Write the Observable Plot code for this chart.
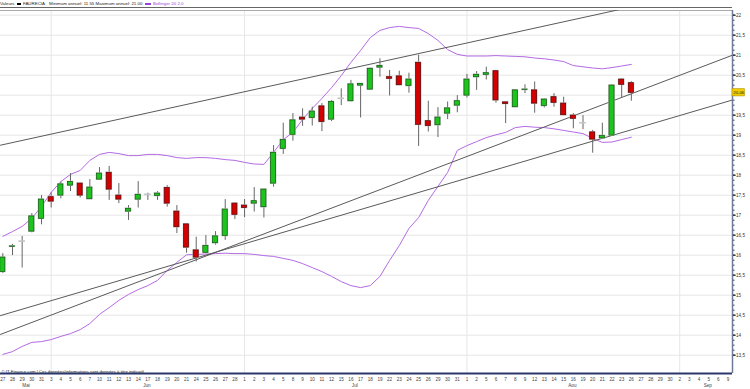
<!DOCTYPE html>
<html><head><meta charset="utf-8">
<script src="https://cdn.jsdelivr.net/npm/d3@7"></script>
<script src="https://cdn.jsdelivr.net/npm/@observablehq/plot@0.6"></script>
<style>
body{margin:0;background:#fff;font-family:"Liberation Sans",Arial,sans-serif;}
#wrap{width:750px;height:389px;overflow:hidden;}
#legend{position:relative;height:7px;border-bottom:1px solid #666;width:732px;font-size:4.4px;line-height:7px;white-space:nowrap;color:#222;}
#legend span{position:absolute;top:0;}
.mk{display:inline-block;height:2px;top:3px !important;}
</style></head>
<body><div id="wrap">
<div id="legend">
<span style="left:0">Valeurs</span>
<span class="mk" style="left:17px;width:4px;background:#000"></span>
<span style="left:23px">FAURECIA</span>
<span style="left:49px">Minimum annuel: 11.55 Maximum annuel: 21.00</span>
<span class="mk" style="left:145px;width:6px;background:#9b40d8"></span>
<span style="left:153px;color:#9b40d8">Bollinger 20 2.0</span>
</div>
<div id="chart"></div></div>
<script>
// Trading days (day-of-month labels) from 27 May to 9 Sep
const dayLabels = [27,28,29,30,31,3,4,5,6,7,10,11,12,13,14,17,18,19,20,21,24,25,26,27,28,1,2,3,4,5,8,9,10,11,12,15,16,17,18,19,22,23,24,25,26,29,30,31,1,2,5,6,7,8,9,12,13,14,15,16,19,20,21,22,23,26,27,28,29,30,2,3,4,5,6,9];
const monthNames = ["Mai","Jun","Jul","Aou","Sep"];
const monthStarts = [0,5,25,48,70];

// FAURECIA daily OHLC
const openV  = [15.58,16.21,16.34,16.59,16.91,17.45,17.49,17.74,17.79,17.40,17.89,18.06,17.49,17.09,17.39,17.51,17.48,17.68,17.09,16.77,16.12,16.06,16.30,16.48,17.29,17.24,17.29,17.20,17.79,18.66,19.01,19.44,19.43,19.72,19.39,19.91,19.85,20.24,20.14,20.69,20.45,20.47,20.23,20.81,19.35,19.25,19.54,19.74,19.99,20.45,20.51,20.60,19.82,19.70,20.13,20.12,19.73,19.95,19.79,19.49,19.30,19.07,18.92,18.99,20.39,20.30];
const highV  = [16.04,16.27,16.47,17.04,17.49,17.56,17.83,18.04,17.80,17.89,18.19,18.22,17.79,17.24,17.84,17.55,17.59,17.74,17.24,16.79,16.45,16.49,16.59,17.39,17.31,17.39,17.69,17.64,18.74,19.30,19.54,19.66,19.70,19.79,19.87,20.16,20.37,20.28,20.68,20.91,20.62,20.60,20.55,21.00,19.85,19.69,19.83,19.99,20.52,20.59,20.70,20.62,19.82,20.14,20.26,20.33,19.91,20.04,19.95,19.54,19.49,19.12,19.30,20.26,20.41,20.34];
const lowV   = [15.54,15.99,15.68,16.56,16.76,17.18,17.41,17.59,17.43,17.39,17.87,17.37,17.29,16.87,17.18,17.37,17.37,17.20,16.54,16.05,15.83,16.04,16.25,16.37,16.89,16.94,17.08,16.93,17.70,18.52,18.85,19.22,19.23,19.09,19.34,19.74,19.83,19.43,20.12,20.45,19.98,20.24,20.05,18.72,19.08,18.94,19.39,19.56,19.93,20.12,20.38,19.80,19.29,19.69,20.04,19.55,19.68,19.70,19.49,19.16,19.14,18.55,18.89,18.98,19.94,19.85];
const closeV = [15.94,16.22,16.34,16.97,17.39,17.34,17.77,17.83,17.49,17.69,18.04,17.64,17.39,17.16,17.51,17.51,17.54,17.29,16.70,16.19,15.94,16.23,16.47,17.14,17.01,17.18,17.35,17.64,18.56,18.88,19.37,19.39,19.59,19.33,19.83,19.91,20.27,20.28,20.66,20.73,20.41,20.25,20.39,19.26,19.23,19.44,19.67,19.85,20.39,20.51,20.55,19.87,19.78,20.12,20.14,19.79,19.89,19.81,19.50,19.41,19.30,18.89,18.98,20.24,20.26,20.06];

// Bollinger 20 / 2.0 bands
const bollUpper = [16.47,16.59,16.72,16.92,17.22,17.57,17.84,18.02,18.12,18.37,18.52,18.57,18.54,18.49,18.49,18.52,18.52,18.49,18.44,18.42,18.44,18.44,18.42,18.39,18.37,18.32,18.28,18.27,18.57,18.89,19.07,19.39,19.67,19.92,20.19,20.49,20.82,21.12,21.44,21.62,21.69,21.72,21.69,21.67,21.54,21.37,21.14,21.02,20.98,20.98,20.98,20.99,20.98,20.97,20.96,20.93,20.91,20.88,20.84,20.74,20.71,20.68,20.66,20.69,20.73,20.77];
const bollLower = [13.52,13.59,13.72,13.82,13.84,13.89,13.97,14.04,14.14,14.29,14.52,14.69,14.87,15.02,15.14,15.24,15.37,15.62,15.82,16.01,16.02,16.03,16.04,16.05,16.04,16.04,16.02,15.99,15.97,15.92,15.87,15.79,15.69,15.59,15.47,15.34,15.24,15.19,15.24,15.47,15.87,16.24,16.67,16.94,17.37,17.72,18.07,18.62,18.74,18.84,18.94,19.01,19.07,19.19,19.22,19.20,19.19,19.16,19.12,19.08,19.04,18.92,18.82,18.83,18.89,18.95];

// Trend lines: value at the left edge and at the right edge of the chart
const trendStart = [18.75, 14.02, 14.49];
const trendEnd   = [22.76, 21.00, 19.88];

const caption = "© IT-Finance.com | Ces données/informations sont données à titre indicatif";

const xDomain = [-0.24, 75.46];
const yDomain = [13.0425, 22.1175];
const n = openV.length;
const candles = d3.range(n).map(i => ({i, o: openV[i], h: highV[i], l: lowV[i], c: closeV[i]}));
const bands = d3.range(n).map(i => ({i, u: bollUpper[i], lo: bollLower[i]}));
const trends = [];
trendStart.forEach((v, k) => {
  trends.push({k, x: xDomain[0], y: v});
  trends.push({k, x: xDomain[1], y: trendEnd[k]});
});
const months = monthNames.map((name, k) => {
  const s = monthStarts[k], e = (k + 1 < monthStarts.length ? monthStarts[k + 1] : dayLabels.length) - 1;
  return {name, pos: (s + e) / 2 + 0.4};
});
const lastClose = closeV[n - 1];
const fmt = d => String(+d.toFixed(2)).replace(".", ",");
const purple = "#b46ae4";
const majorTicks = d3.range(13.5, 22.01, 0.5);
// the last-price tag covers the tick label it sits on
const labelTicks = majorTicks.filter(t => Math.abs(t - lastClose) > 0.15);

const chart = Plot.plot({
  width: 750, height: 381,
  marginTop: 2, marginBottom: 16, marginLeft: 0, marginRight: 18,
  x: {domain: xDomain},
  y: {domain: yDomain},
  style: {fontFamily: "'Liberation Sans', Arial, sans-serif", background: "white", overflow: "visible"},
  marks: [
    Plot.gridY(majorTicks, {stroke: "#e6e6e6", strokeOpacity: 1}),
    Plot.gridX(monthStarts.slice(1), {stroke: "#e6e6e6", strokeOpacity: 1}),
    Plot.ruleY([yDomain[1]], {stroke: "#aaa"}),
    Plot.line(bands, {x: "i", y: "u", stroke: purple, strokeWidth: 1}),
    Plot.line(bands, {x: "i", y: "lo", stroke: purple, strokeWidth: 1}),
    Plot.line(trends, {x: "x", y: "y", z: "k", stroke: "#5a5a5a", strokeWidth: 1, clip: true}),
    Plot.ruleX(candles, {x: "i", y1: "l", y2: "h", stroke: "#666", strokeWidth: 1}),
    Plot.rect(candles, {x1: d => d.i - 0.34, x2: d => d.i + 0.34, y1: "o", y2: "c", insetTop: -0.8, insetBottom: -0.8, fill: "#c4c4c4"}),
    Plot.rect(candles, {x1: d => d.i - 0.26, x2: d => d.i + 0.26, y1: "o", y2: "c",
      fill: d => d.c >= d.o ? "#1ec41e" : "#d20000",
      stroke: d => d.c >= d.o ? "#0c5a0c" : "#5a0000", strokeWidth: 0.7}),
    Plot.text([caption], {frameAnchor: "bottom-left", dx: 1, dy: -0.8, fontSize: 4.3, fill: "#222"}),
    Plot.ruleX([xDomain[1]], {stroke: "#6d7b9b", strokeWidth: 1.5}),
    Plot.ruleY([yDomain[0]], {stroke: "#2a376a", strokeWidth: 2}),
    Plot.axisY(d3.range(13.5, 22.01, 0.125), {anchor: "right", tickSize: 1.5, tickFormat: () => "", color: "#445"}),
    Plot.axisY(majorTicks, {anchor: "right", tickSize: 2.5, tickFormat: () => "", color: "#333"}),
    Plot.axisY(labelTicks, {anchor: "right", tickSize: 2.5, tickPadding: 1, tickFormat: fmt, fontSize: 4.6, color: "#333"}),
    Plot.axisX(d3.range(dayLabels.length), {anchor: "bottom", tickSize: 0, tickPadding: 4, tickFormat: i => String(dayLabels[i]), fontSize: 4.6, color: "#444"}),
    Plot.text(months, {x: "pos", text: "name", frameAnchor: "bottom", dy: 13, fontSize: 4.6, fill: "#444"}),
    Plot.rect([lastClose], {x1: xDomain[1], x2: xDomain[1] + 1.28, y1: d => d, y2: d => d, insetTop: -3.6, insetBottom: -3.6, fill: "#f3cd00", stroke: "#b39400", strokeWidth: 0.6}),
    Plot.text([lastClose], {x: xDomain[1], y: d => d, text: d => d.toFixed(2).replace(".", ","), dx: 6.3, fontSize: 4.4, fill: "#222"})
  ]
});
document.getElementById("chart").append(chart);
</script>
</body></html>
